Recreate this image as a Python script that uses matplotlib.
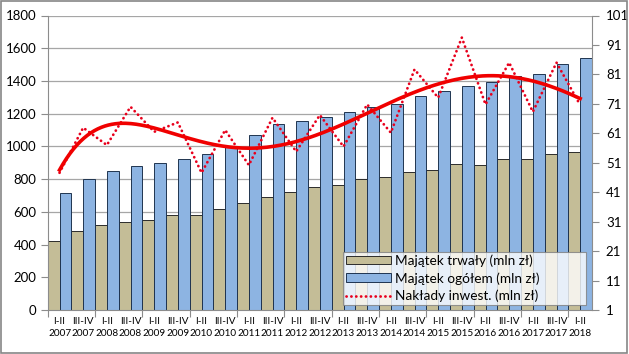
import matplotlib
matplotlib.use('Agg')
import matplotlib.pyplot as plt
import numpy as np
from matplotlib.patches import Rectangle, Patch
from matplotlib.lines import Line2D

plt.rcParams['font.family'] = ['Lato', 'DejaVu Sans']

periods = ['I-II', 'III-IV'] * 11 + ['I-II']
years = ['2007', '2007', '2008', '2008', '2009', '2009', '2010', '2010',
         '2011', '2011', '2012', '2012', '2013', '2013', '2014', '2014',
         '2015', '2015', '2016', '2016', '2017', '2017', '2018']
categories = [f"{p}\n{y}" for p, y in zip(periods, years)]

majatek_trwaly = [420, 485, 518, 538, 550, 580, 580, 615, 654, 689, 719, 750,
                  764, 801, 813, 841, 854, 890, 886, 921, 920, 953, 964]
majatek_ogolem = [713, 799, 851, 880, 896, 923, 953, 998, 1069, 1135, 1155, 1177,
                  1208, 1239, 1261, 1306, 1338, 1371, 1393, 1432, 1444, 1504, 1538]
naklady = [47.6, 62.9, 57.0, 70.0, 61.5, 64.7, 47.6, 62.1, 50.2, 66.3, 54.8, 67.2,
           56.5, 70.8, 61.2, 82.7, 73.1, 93.5, 70.8, 85.0, 68.3, 85.0, 70.6]

left_ticks = list(range(0, 1801, 200))
right_ticks = list(range(1, 102, 10))

tan = '#C4BD97'
blue = '#8DB4E2'
edge = '#2b2b2b'
grid_c = '#A6A6A6'
axis_c = '#8C8C8C'
red_dot = '#E8001C'
dot_style = (0, (0.05, 1.7))

fig = plt.figure(figsize=(6.29, 3.54), dpi=100)
ax = fig.add_axes([47.7 / 629, 1 - 310 / 354, (592 - 47.7) / 629, (310 - 15.5) / 354])
ax2 = ax.twinx()

x = np.arange(len(categories))
w = 0.5
ax.bar(x - w / 2, majatek_trwaly, width=w, color=tan, edgecolor=edge, linewidth=0.7, zorder=2)
ax.bar(x + w / 2, majatek_ogolem, width=w, color=blue, edgecolor='#1F3450', linewidth=0.7, zorder=2)

ax.set_xlim(-0.5, len(categories) - 0.5)
ax.set_ylim(0, 1800)
ax.set_yticks(left_ticks)
ax.set_yticklabels([str(t) for t in left_ticks], fontsize=9.5)
ax.yaxis.grid(True, color=grid_c, linewidth=0.9)
ax.set_axisbelow(True)

ax.set_xticks(np.arange(-0.5, len(categories), 2))
ax.set_xticklabels([])
ax.set_xticks(x, minor=True)
ax.set_xticklabels(categories, minor=True, fontsize=7.2, linespacing=1.45)
ax.tick_params(axis='x', which='minor', length=0, pad=5)
ax.tick_params(axis='x', which='major', length=5, color=axis_c, width=0.8)
ax.tick_params(axis='y', length=5, color=axis_c, width=0.8, pad=3)

ax.spines['top'].set_visible(False)
ax2.spines['top'].set_visible(False)
for s in ['left', 'bottom']:
    ax.spines[s].set_color(axis_c)
    ax.spines[s].set_linewidth(0.8)
ax.spines['right'].set_visible(False)
ax2.spines['left'].set_visible(False)
ax2.spines['bottom'].set_visible(False)
ax2.spines['right'].set_color(axis_c)
ax2.spines['right'].set_linewidth(0.8)

ax2.set_ylim(1, 101)
ax2.set_yticks(right_ticks)
ax2.set_yticklabels([str(t) for t in right_ticks], fontsize=9.5)
ax2.tick_params(axis='y', length=5, color=axis_c, width=0.8, pad=5)

ax2.plot(x, naklady, color=red_dot, linestyle=dot_style, linewidth=2.0,
         dash_capstyle='round', solid_capstyle='round', zorder=3)

coef = np.polyfit(x, naklady, 6)
xs = np.linspace(0, len(categories) - 1, 300)
ax2.plot(xs, np.polyval(coef, xs), color='#F00000', linewidth=2.6, zorder=4)

handles = [Patch(facecolor=tan, edgecolor=edge, linewidth=0.7),
           Patch(facecolor=blue, edgecolor='#1F3450', linewidth=0.7),
           Line2D([0], [0], color=red_dot, linestyle=dot_style, linewidth=2.0,
                  dash_capstyle='round')]
labels = ['Majątek trwały (mln zł)', 'Majątek ogółem (mln zł)', 'Nakłady inwest. (mln zł)']
leg = ax2.legend(handles, labels, loc='lower left',
                 bbox_to_anchor=((343 - 47.7) / (592 - 47.7), (310 - 305) / (310 - 15.5),
                                 (586 - 343) / (592 - 47.7), (305 - 250) / (310 - 15.5)),
                 mode='expand', fontsize=9.8, frameon=True, fancybox=False,
                 borderpad=0.2, labelspacing=0.38, handlelength=3.3, handleheight=0.6,
                 handletextpad=0.35, borderaxespad=0)
leg.get_frame().set_edgecolor('#7F7F7F')
leg.get_frame().set_linewidth(0.8)
leg.set_zorder(10)

fig.patches.append(Rectangle((0.002, 0.003), 0.995, 0.993, transform=fig.transFigure,
                             fill=False, edgecolor='#868686', linewidth=1.2))

fig.savefig('out.png', dpi=100)
